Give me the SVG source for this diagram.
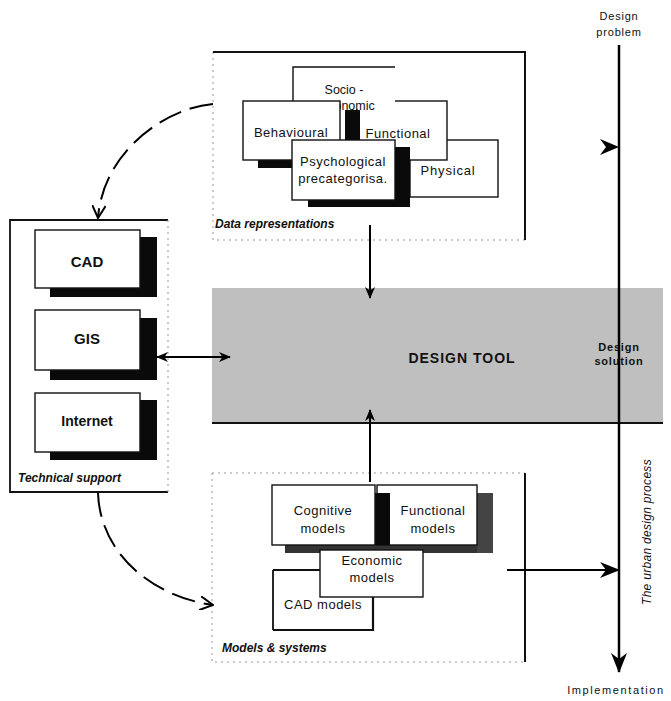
<svg xmlns="http://www.w3.org/2000/svg" width="671" height="701" viewBox="0 0 671 701">
<style>
  .t{font-family:"Liberation Sans",Arial,sans-serif;fill:#111;}
  .box{fill:#fff;stroke:#111;stroke-width:1.4;}
  .lbl{font-family:"Liberation Sans",Arial,sans-serif;font-style:italic;font-weight:bold;fill:#111;font-size:12px;}
  .frame{fill:none;stroke:#111;stroke-width:2;}
  .faint{fill:none;stroke:#999;stroke-width:1;stroke-dasharray:2 4;}
  .shadow{fill:#0a0a0a;}
  .line{stroke:#000;stroke-width:2;fill:none;}
  .dash{stroke:#000;stroke-width:2;fill:none;stroke-dasharray:24 9;}
</style>
<defs>
  <marker id="ah" viewBox="0 0 12 10" refX="11" refY="5" markerWidth="12" markerHeight="10" markerUnits="userSpaceOnUse" orient="auto-start-reverse">
    <path d="M0,0 L12,5 L0,10 L3.5,5 z" fill="#000"/>
  </marker>
  <marker id="ahbig" viewBox="0 0 20 16" refX="19" refY="8" markerWidth="20" markerHeight="16" markerUnits="userSpaceOnUse" orient="auto-start-reverse">
    <path d="M0,0 L20,8 L0,16 L6,8 z" fill="#000"/>
  </marker>
  <marker id="open" viewBox="0 0 14 14" refX="13" refY="7" markerWidth="14" markerHeight="14" markerUnits="userSpaceOnUse" orient="auto">
    <path d="M0,0 L13,7 L0,14" fill="none" stroke="#000" stroke-width="2"/>
  </marker>
</defs>

<!-- Design tool -->
<g id="design-tool">
  <rect x="212" y="288" width="451" height="135" fill="#bfbfbf"/>
  <line x1="212" y1="423" x2="663" y2="423" stroke="#111" stroke-width="2"/>
  <text class="t" x="462" y="363" font-size="14" font-weight="bold" text-anchor="middle" letter-spacing="1">DESIGN TOOL</text>
  <text class="t" x="619" y="351" font-size="11" font-weight="bold" text-anchor="middle" letter-spacing="0.8" fill="#222">Design</text>
  <text class="t" x="619" y="365" font-size="11" font-weight="bold" text-anchor="middle" letter-spacing="0.8" fill="#222">solution</text>
</g>

<!-- Data representations -->
<g id="data-representations">
  <path class="faint" d="M213,52 L213,240 L525,240"/>
  <path class="frame" d="M213,52 L525,52 L525,240"/>
  <rect class="box" x="410" y="140" width="88" height="57"/>
  <text class="t" x="448" y="175" font-size="13" text-anchor="middle" letter-spacing="0.8">Physical</text>
  <rect class="box" x="357" y="101" width="90" height="59"/>
  <rect x="293" y="67" width="102" height="42" fill="#fff"/>
  <path d="M293,109 L293,67 L395,67" fill="none" stroke="#111" stroke-width="1.4"/>
  <text class="t" x="344" y="94" font-size="12.5" text-anchor="middle">Socio -</text>
  <text class="t" x="348" y="110" font-size="12.5" text-anchor="middle">economic</text>
  <rect class="shadow" x="345" y="110" width="15" height="40"/>
  <text class="t" x="398" y="138" font-size="13" text-anchor="middle" letter-spacing="0.5">Functional</text>
  <rect class="shadow" x="258" y="150" width="40" height="18"/>
  <rect class="box" x="243" y="101" width="97" height="59"/>
  <text class="t" x="291" y="137" font-size="13" text-anchor="middle" letter-spacing="0.5">Behavioural</text>
  <rect class="shadow" x="308" y="147" width="102" height="60"/>
  <rect class="box" x="292" y="140" width="103" height="60"/>
  <text class="t" x="343" y="166" font-size="13" text-anchor="middle" letter-spacing="0.5">Psychological</text>
  <text class="t" x="343" y="183" font-size="13" text-anchor="middle" letter-spacing="0.5">precategorisa.</text>
  <text class="lbl" x="215" y="228">Data representations</text>
</g>

<!-- Technical support -->
<g id="technical-support">
  <path d="M168,220 L10,220 L10,492 L168,492" fill="none" stroke="#111" stroke-width="1.8"/>
  <line class="faint" x1="168" y1="220" x2="168" y2="492"/>
  <rect class="shadow" x="50" y="237" width="107" height="60"/>
  <rect class="box" x="35" y="230" width="105" height="58"/>
  <text class="t" x="87" y="267" font-size="15" font-weight="bold" text-anchor="middle">CAD</text>
  <rect class="shadow" x="50" y="318" width="107" height="62"/>
  <rect class="box" x="35" y="310" width="105" height="60"/>
  <text class="t" x="87" y="344" font-size="15" font-weight="bold" text-anchor="middle">GIS</text>
  <rect class="shadow" x="50" y="400" width="107" height="60"/>
  <rect class="box" x="35" y="393" width="105" height="59"/>
  <text class="t" x="87" y="426" font-size="14" font-weight="bold" text-anchor="middle">Internet</text>
  <text class="lbl" x="18" y="482" font-size="11">Technical support</text>
</g>

<!-- Models & systems -->
<g id="models-systems">
  <path class="faint" d="M212,473 L525,473 M212,473 L212,662 L525,662"/>
  <line class="frame" x1="525" y1="473" x2="525" y2="662"/>
  <rect x="285" y="545" width="208" height="8" fill="#333"/>
  <rect x="477" y="493" width="16" height="60" fill="#444"/>
  <rect class="box" x="377" y="485" width="100" height="60"/>
  <rect class="shadow" x="375" y="493" width="15" height="52"/>
  <text class="t" x="433" y="515" font-size="13" text-anchor="middle" letter-spacing="0.5">Functional</text>
  <text class="t" x="433" y="533" font-size="13" text-anchor="middle" letter-spacing="0.5">models</text>
  <rect class="box" x="272" y="485" width="103" height="60"/>
  <text class="t" x="323" y="515" font-size="13" text-anchor="middle" letter-spacing="0.5">Cognitive</text>
  <text class="t" x="323" y="533" font-size="13" text-anchor="middle" letter-spacing="0.5">models</text>
  <rect x="273" y="570" width="100" height="60" fill="#fff"/>
  <path d="M273,570 L273,630 M320,570 L273,570" stroke="#111" stroke-width="1.8" fill="none"/>
  <path d="M373,597 L373,630 L273,630" stroke="#111" stroke-width="2.2" fill="none"/>
  <text class="t" x="323" y="609" font-size="13" text-anchor="middle" letter-spacing="0.5">CAD models</text>
  <rect class="box" x="320" y="550" width="103" height="47"/>
  <text class="t" x="372" y="565" font-size="13" text-anchor="middle" letter-spacing="0.5">Economic</text>
  <text class="t" x="372" y="582" font-size="13" text-anchor="middle" letter-spacing="0.5">models</text>
  <text class="lbl" x="222" y="652">Models &amp; systems</text>
</g>

<!-- Process axis labels -->
<g id="process">
  <text class="t" x="619" y="20" font-size="11" text-anchor="middle" letter-spacing="0.8">Design</text>
  <text class="t" x="619" y="36" font-size="11" text-anchor="middle" letter-spacing="0.8">problem</text>
  <text class="t" x="616" y="694" font-size="11" text-anchor="middle" letter-spacing="1.6">Implementation</text>
  <text class="t" x="651" y="532" font-size="12" font-style="italic" text-anchor="middle" transform="rotate(-90 651 532)" letter-spacing="0.3">The urban design process</text>
</g>

<!-- Connectors -->
<g id="connectors">
  <line x1="619" y1="45" x2="619" y2="672" stroke="#000" stroke-width="2.5" marker-end="url(#ahbig)"/>
  <path d="M600,139 L619,147 L600,155 L606,147 z" fill="#000"/>
  <line class="line" x1="507" y1="570" x2="619" y2="570" marker-end="url(#ahbig)"/>
  <line class="line" x1="370" y1="225" x2="370" y2="298" marker-end="url(#ah)"/>
  <line class="line" x1="370" y1="482" x2="370" y2="410" marker-end="url(#ah)"/>
  <line class="line" x1="157" y1="357" x2="230" y2="357" marker-start="url(#ah)" marker-end="url(#ah)"/>
  <path class="dash" d="M213,104 C165,108 103,152 98,218" marker-end="url(#open)"/>
  <path class="dash" d="M98,493 C100,552 150,596 213,605" marker-end="url(#open)"/>
</g>
</svg>
